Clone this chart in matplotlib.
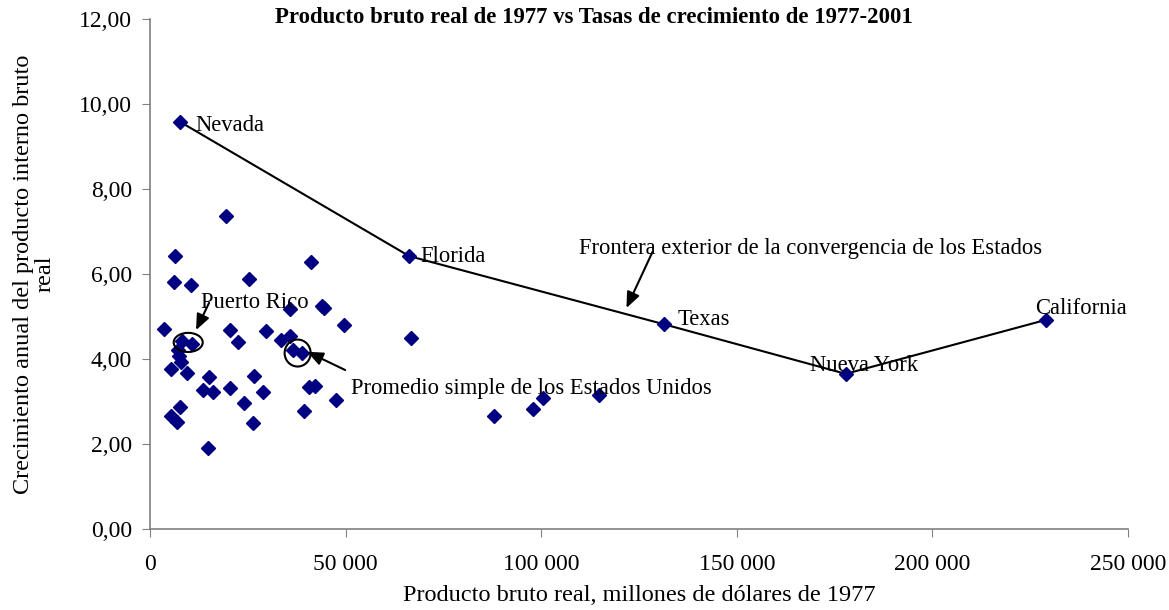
import matplotlib.pyplot as plt
from matplotlib.patches import Ellipse
from matplotlib.ticker import FuncFormatter, MultipleLocator

plt.rcParams["font.family"] = ["Liberation Serif", "DejaVu Serif"]

# producto bruto real 1977 (millones de dólares) y crecimiento anual 1977-2001
pib = [7680, 66280, 131280, 177850, 229030,
       19370, 6480, 41200, 6140, 10580, 25420, 35830, 43900, 44500, 49700,
       3580, 20470, 22440, 29680, 33440, 35830, 36680, 38800, 8270, 10670,
       7250, 7500, 7850, 5290, 9550, 15100, 13650, 16200, 20470, 26610,
       28830, 24050, 40770, 42220, 47500, 39490, 7680, 5290, 6990, 26440,
       14930, 66790, 87860, 97830, 100460, 114720]
crecimiento = [9.58, 6.42, 4.82, 3.65, 4.92,
               7.36, 6.43, 6.28, 5.81, 5.75, 5.89, 5.17, 5.25, 5.20, 4.80,
               4.71, 4.68, 4.39, 4.66, 4.45, 4.55, 4.21, 4.15, 4.43, 4.35,
               4.21, 4.06, 3.94, 3.76, 3.66, 3.58, 3.26, 3.23, 3.31, 3.60,
               3.23, 2.96, 3.35, 3.36, 3.04, 2.78, 2.88, 2.65, 2.52, 2.49,
               1.90, 4.49, 2.67, 2.83, 3.09, 3.15]

# frontera exterior: Nevada, Florida, Texas, Nueva York, California
frontera = ["Nevada", "Florida", "Texas", "Nueva York", "California"]
frontera_x = pib[:5]
frontera_y = crecimiento[:5]

# Puerto Rico y promedio de EE.UU. (puntos marcados con círculo)
pr_x, pr_y = (pib[23] + pib[24]) / 2, (crecimiento[23] + crecimiento[24]) / 2
us_x, us_y = (pib[21] + pib[22]) / 2, (crecimiento[21] + crecimiento[22]) / 2

fig = plt.figure(figsize=(11.69, 6.10), dpi=100)
ax = fig.add_axes([0.1283, 0.1328, 0.8366, 0.8361])

ax.plot(frontera_x, frontera_y, color="black", lw=1.5, zorder=2)
ax.plot(pib, crecimiento, "D", color="#000080", markersize=7.5, zorder=3)

ax.set_xlim(0, 250000)
ax.set_ylim(0, 12)
ax.xaxis.set_major_locator(MultipleLocator(50000))
ax.yaxis.set_major_locator(MultipleLocator(2))
ax.xaxis.set_major_formatter(FuncFormatter(lambda v, p: f"{int(v):,}".replace(",", " ")))
ax.yaxis.set_major_formatter(FuncFormatter(lambda v, p: f"{v:.2f}".replace(".", ",")))
ax.tick_params(labelsize=17, length=6, color="#808080", pad=7)
ax.tick_params(axis="x", pad=12)
for s in ["top", "right"]:
    ax.spines[s].set_visible(False)
for s in ["left", "bottom"]:
    ax.spines[s].set_color("#808080")
    ax.spines[s].set_linewidth(1.2)

fs = 16.3

# etiquetas de los estados de la frontera
offsets = [(11, -3), (8, 0), (10, 3), (-26, 6), (-8, 8)]
for name, x, y, (dx, dy) in zip(frontera, frontera_x, frontera_y, offsets):
    ax.annotate(name, (x, y), xytext=(dx, dy), textcoords="offset points",
                fontsize=fs, va="center", ha="left")

arrow = dict(arrowstyle="-|>,head_length=0.95,head_width=0.4", color="black",
             lw=1.5, shrinkA=0, shrinkB=0, mutation_scale=10)

# Puerto Rico
ax.add_patch(Ellipse((pr_x + 300, pr_y), 7420, 0.45, fill=False, lw=1.5, zorder=4))
ax.text(13050, 5.32, "Puerto Rico", fontsize=fs, va="center", ha="left")
ax.annotate("", (11770, 4.68), xytext=(15100, 5.32), arrowprops=arrow)

# promedio simple
ax.add_patch(Ellipse((us_x, us_y - 0.04), 6650, 0.635, fill=False, lw=1.5, zorder=4))
ax.text(51360, 3.30, "Promedio simple de los Estados Unidos", fontsize=fs,
        va="center", ha="left")
ax.annotate("", (40180, 4.17), xytext=(49900, 3.74), arrowprops=arrow)

# frontera
ax.text(109780, 6.59, "Frontera exterior de la convergencia de los Estados",
        fontsize=fs, va="center", ha="left")
ax.annotate("", (121800, 5.20), xytext=(128460, 6.52), arrowprops=arrow)

fig.text(0.508, 0.971, "Producto bruto real de 1977 vs Tasas de crecimiento de 1977-2001",
         ha="center", va="center", fontsize=16.4, fontweight="bold")
ax.set_xlabel("Producto bruto real, millones de dólares de 1977", fontsize=17.5, labelpad=7)
ax.set_ylabel("Crecimiento anual del producto interno bruto\nreal", fontsize=17.5,
              linespacing=1.0)
ax.yaxis.set_label_coords(-0.097, 0.5)

fig.savefig("out.png", dpi=100)
